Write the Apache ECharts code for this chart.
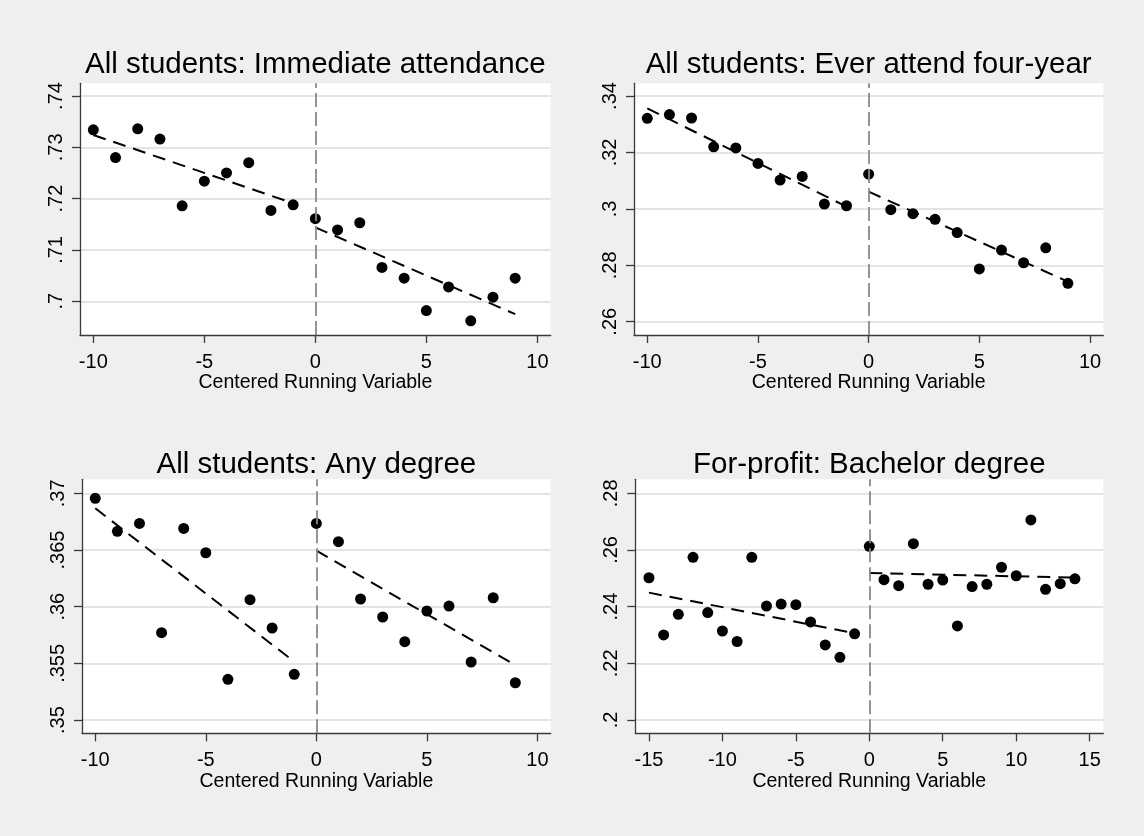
<!DOCTYPE html>
<html>
<head>
<meta charset="utf-8">
<script src="https://cdn.jsdelivr.net/npm/echarts@6/dist/echarts.min.js"></script>
<style>
html,body{margin:0;padding:0;background:#efefef;}
#chart{width:1144px;height:836px;}
</style>
</head>
<body>
<div id="chart"></div>
<script>
// ---------- data ----------
const panelTitles = [
  'All students: Immediate attendance',
  'All students: Ever attend four-year',
  'All students: Any degree',
  'For-profit: Bachelor degree'
];
const xAxisTitle = 'Centered Running Variable';

const binsA = [-10,-9,-8,-7,-6,-5,-4,-3,-2,-1,0,1,2,3,4,5,6,7,8,9];
const binsB = [-15,-14,-13,-12,-11,-10,-9,-8,-7,-6,-5,-4,-3,-2,-1,0,1,2,3,4,5,6,7,8,9,10,11,12,13,14];

const immediateAttend = [0.7334,0.7280,0.7336,0.7316,0.7186,0.7234,0.7250,0.7270,0.7177,0.7188,
                         0.7161,0.7139,0.7153,0.7066,0.7045,0.6982,0.7028,0.6962,0.7008,0.7045];
const everFourYear    = [0.3321,0.3334,0.3322,0.3220,0.3216,0.3161,0.3102,0.3115,0.3017,0.3011,
                         0.3123,0.2997,0.2983,0.2963,0.2916,0.2787,0.2854,0.2809,0.2862,0.2736];
const anyDegree       = [0.36956,0.36665,0.36735,0.35771,0.36691,0.36476,0.35359,0.36062,0.35812,0.35403,
                         0.36735,0.36574,0.36068,0.35909,0.35691,0.35962,0.36006,0.35512,0.36079,0.35329];
const forProfitBach   = [0.2502,0.2300,0.2373,0.2574,0.2379,0.2314,0.2277,0.2574,0.2402,0.2409,0.2407,0.2346,0.2265,0.2221,0.2304,
                         0.2613,0.2495,0.2474,0.2622,0.2479,0.2494,0.2332,0.2471,0.2479,0.2539,0.2509,0.2706,0.2461,0.2481,0.2498];

// linear fit endpoints [x, y] left and right of cutoff
const fitImmediateLeft  = [[-10,0.7324],[-1,0.7191]];
const fitImmediateRight = [[0,0.7144],[9,0.6975]];
const fitFourYearLeft   = [[-10,0.3356],[-1,0.3008]];
const fitFourYearRight  = [[0,0.3061],[9,0.2742]];
const fitAnyDegLeft     = [[-10,0.36868],[-1,0.35515]];
const fitAnyDegRight    = [[0,0.36494],[9,0.35485]];
const fitForProfitLeft  = [[-15,0.24494],[-1,0.23059]];
const fitForProfitRight = [[0,0.25188],[14,0.25023]];

// tick values
const xTicksA = [-10,-5,0,5,10];
const xTicksB = [-15,-10,-5,0,5,10,15];
const yTicks1 = [0.70,0.71,0.72,0.73,0.74];
const yTicks2 = [0.26,0.28,0.30,0.32,0.34];
const yTicks3 = [0.35,0.355,0.36,0.365,0.37];
const yTicks4 = [0.20,0.22,0.24,0.26,0.28];

// axis ranges
const xRangeA = [-10.6, 10.6];
const xRangeB = [-15.93, 15.93];
const yRange1 = [0.69343, 0.74247];
const yRange2 = [0.2553, 0.3445];
const yRange3 = [0.34883, 0.37124];
const yRange4 = [0.1953, 0.28494];

// ---------- layout ----------
const grids = [
  {left: 80,  top: 83.3,  width: 470.7, height: 251.7},
  {left: 634, top: 83.3,  width: 469.3, height: 251.7},
  {left: 82,  top: 479.3, width: 468.7, height: 254},
  {left: 635.3, top: 479.3, width: 468, height: 254}
];
const titleTops = [45, 45, 445, 445];

const panels = [
  {bins: binsA, vals: immediateAttend, fitL: fitImmediateLeft, fitR: fitImmediateRight, xt: xTicksA, yt: yTicks1, xr: xRangeA, yr: yRange1},
  {bins: binsA, vals: everFourYear,    fitL: fitFourYearLeft,  fitR: fitFourYearRight,  xt: xTicksA, yt: yTicks2, xr: xRangeA, yr: yRange2},
  {bins: binsA, vals: anyDegree,       fitL: fitAnyDegLeft,    fitR: fitAnyDegRight,    xt: xTicksA, yt: yTicks3, xr: xRangeA, yr: yRange3},
  {bins: binsB, vals: forProfitBach,   fitL: fitForProfitLeft, fitR: fitForProfitRight, xt: xTicksB, yt: yTicks4, xr: xRangeB, yr: yRange4}
];

const FONT = "'Liberation Sans', Arial, sans-serif";
const axisColor = '#3a3a3a';

function fmtY(v){
  let s = String(+(+v).toFixed(4));
  return s.replace(/^0\./, '.');
}

const option = {
  animation: false,
  backgroundColor: '#efefef',
  textStyle: {fontFamily: FONT},
  title: panels.map((p, i) => ({
    text: panelTitles[i],
    left: grids[i].left + grids[i].width / 2 - 5,
    top: titleTops[i],
    textAlign: 'center',
    textStyle: {fontFamily: FONT, fontSize: 29.5, fontWeight: 'normal', color: '#000', lineHeight: 30}
  })),
  grid: grids.map(g => Object.assign({show: true, backgroundColor: '#ffffff', borderWidth: 0, containLabel: false}, g)),
  xAxis: panels.map((p, i) => ({
    type: 'value', gridIndex: i, min: p.xr[0], max: p.xr[1],
    name: xAxisTitle, nameLocation: 'middle', nameGap: 38,
    nameTextStyle: {fontFamily: FONT, fontSize: 19.5, color: '#000'},
    axisLine: {show: true, onZero: false, lineStyle: {color: axisColor, width: 1.3}},
    axisTick: {show: true, inside: false, length: 8, customValues: p.xt, lineStyle: {color: axisColor, width: 1.3}},
    axisLabel: {show: true, margin: 17, customValues: p.xt, fontFamily: FONT, fontSize: 20, color: '#000'},
    splitLine: {show: false}
  })),
  yAxis: panels.map((p, i) => ({
    type: 'value', gridIndex: i, min: p.yr[0], max: p.yr[1],
    axisLine: {show: true, onZero: false, lineStyle: {color: axisColor, width: 1.3}},
    axisTick: {show: true, inside: false, length: 8, customValues: p.yt, lineStyle: {color: axisColor, width: 1.3}},
    axisLabel: {show: true, margin: 14, rotate: 90, customValues: p.yt, formatter: fmtY, fontFamily: FONT, fontSize: 20, color: '#000'},
    splitLine: {show: true, lineStyle: {color: '#e4e4e4', width: 1.8}}
  })),
  series: []
};

panels.forEach((p, i) => {
  option.series.push({
    type: 'line', xAxisIndex: i, yAxisIndex: i, data: p.fitL, symbol: 'none', z: 3,
    lineStyle: {color: '#000', width: 2, type: [13, 8]}, silent: true
  });
  option.series.push({
    type: 'line', xAxisIndex: i, yAxisIndex: i, data: p.fitR, symbol: 'none', z: 3,
    lineStyle: {color: '#000', width: 2, type: [13, 8]}, silent: true
  });
  option.series.push({
    type: 'scatter', xAxisIndex: i, yAxisIndex: i, z: 4,
    data: p.bins.map((x, k) => [x, p.vals[k]]),
    symbol: 'circle', symbolSize: 11,
    itemStyle: {color: '#000', opacity: 1},
    markLine: {
      silent: true, symbol: ['none', 'none'], label: {show: false},
      lineStyle: {color: '#8a8a8a', width: 1.8, type: [14, 5]},
      data: [{xAxis: 0}]
    }
  });
});

const chart = echarts.init(document.getElementById('chart'), null, {renderer: 'canvas'});
chart.setOption(option);
</script>
</body>
</html>
